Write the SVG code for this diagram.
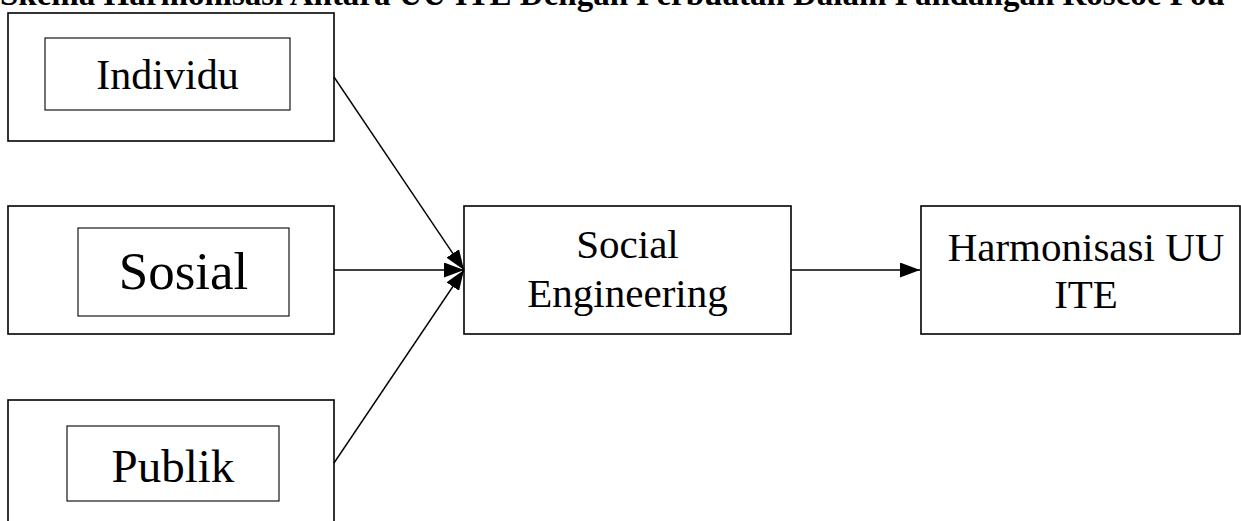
<svg xmlns="http://www.w3.org/2000/svg" width="1241" height="521" viewBox="0 0 1241 521">
  <style>
    .outer { fill: #ffffff; stroke: #000000; stroke-width: 1.6; }
    .inner { fill: #ffffff; stroke: #000000; stroke-width: 1.1; }
    .lbl { font-family: "Liberation Serif", "Times New Roman", serif; fill: #000000; text-anchor: middle; }
    .title { font-family: "Liberation Serif", "Times New Roman", serif; font-weight: bold; fill: #000000; font-size: 33px; }
    .conn { stroke: #000000; stroke-width: 1.4; fill: none; marker-end: url(#ah); }
  </style>
  <defs>
    <marker id="ah" markerUnits="userSpaceOnUse" markerWidth="21" markerHeight="15" refX="20" refY="7.5" orient="auto">
      <path d="M0,0 L20,7.5 L0,15 Z" fill="#000000"/>
    </marker>
  </defs>
  <rect width="1241" height="521" fill="#ffffff"/>
  <text class="title" x="0" y="5">Skema Harmonisasi Antara UU ITE Dengan Perbuatan Dalam Pandangan Roscoe Pou</text>

  <g id="node-individu">
    <rect class="outer" x="8" y="13" width="326" height="128"/>
    <rect class="inner" x="45" y="38" width="245" height="72"/>
    <text class="lbl" x="167.5" y="89" font-size="42">Individu</text>
  </g>
  <g id="node-sosial">
    <rect class="outer" x="8" y="206" width="326" height="128"/>
    <rect class="inner" x="78" y="228" width="211" height="88"/>
    <text class="lbl" x="183.5" y="289" font-size="53">Sosial</text>
  </g>
  <g id="node-publik">
    <rect class="outer" x="8" y="400" width="326" height="140"/>
    <rect class="inner" x="67" y="426" width="212" height="75"/>
    <text class="lbl" x="173" y="482" font-size="47">Publik</text>
  </g>
  <g id="node-social-engineering">
    <rect class="outer" x="464" y="206" width="327" height="128"/>
    <text class="lbl" x="627.5" y="258" font-size="41">Social</text>
    <text class="lbl" x="627.5" y="307" font-size="41">Engineering</text>
  </g>
  <g id="node-harmonisasi">
    <rect class="outer" x="921" y="206" width="319" height="128"/>
    <text class="lbl" x="1086" y="261" font-size="41">Harmonisasi UU</text>
    <text class="lbl" x="1086" y="308" font-size="41">ITE</text>
  </g>

  <g id="connectors">
    <line class="conn" x1="334" y1="77" x2="464" y2="270"/>
    <line class="conn" x1="334" y1="270" x2="464" y2="270"/>
    <line class="conn" x1="334" y1="463" x2="464" y2="270"/>
    <line class="conn" x1="791" y1="270" x2="920" y2="270"/>
  </g>
</svg>
